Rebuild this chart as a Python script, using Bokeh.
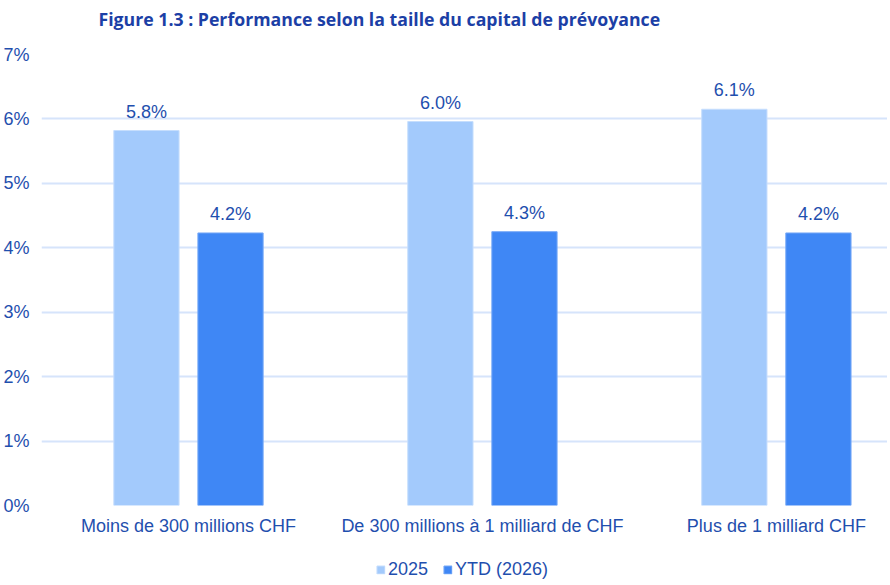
from bokeh.plotting import figure
from bokeh.models import (ColumnDataSource, Range1d, FixedTicker, PrintfTickFormatter,
                          Legend, LegendItem, LabelSet, Label)
from bokeh.layouts import column
from bokeh.core.properties import value
from bokeh.transform import dodge
from bokeh.embed import file_html
from bokeh.resources import INLINE

title_text = "Figure 1.3 : Performance selon la taille du capital de prévoyance"
categories = ["Moins de 300 millions CHF", "De 300 millions à 1 milliard de CHF", "Plus de 1 milliard CHF"]
series_names = ["2025", "YTD (2026)"]
values_2025 = [5.82, 5.96, 6.15]
values_ytd = [4.23, 4.25, 4.23]
labels_2025 = ["5.8%", "6.0%", "6.1%"]
labels_ytd = ["4.2%", "4.3%", "4.2%"]
y_ticks = [0, 1, 2, 3, 4, 5, 6, 7]

TEXT = "#1f4fae"
TITLE = "#1c3fa6"
C1 = "#a3cafc"
C2 = "#3f87f5"
L1 = "#c6defd"
L2 = "#78aaf7"
FONT = "Liberation Sans"
FS = "18px"

# ---- title strip ----
t = figure(width=882, height=36, output_backend="svg", toolbar_location=None,
           x_range=Range1d(0, 1), y_range=Range1d(0, 1),
           x_axis_location=None, y_axis_location=None,
           min_border_left=0, min_border_right=0, min_border_top=0, min_border_bottom=0)
t.outline_line_color = None
t.grid.visible = False
t.add_layout(Label(x=57, y=18, x_units="screen", y_units="screen", text=title_text,
                   text_font="Open Sans", text_font_style="bold", text_font_size="17.7px",
                   text_color=TITLE, text_baseline="middle", text_align="left"))

# ---- main chart ----
idx = list(range(len(categories)))
src = ColumnDataSource(dict(x=idx, v1=values_2025, v2=values_ytd, l1=labels_2025, l2=labels_ytd))

p = figure(width=882, height=500, output_backend="svg", toolbar_location=None,
           x_range=Range1d(-0.5, 2.378), y_range=Range1d(0, 7),
           min_border_left=40, min_border_right=0, min_border_top=18, min_border_bottom=31)
p.frame_width = 846
p.frame_height = 451
p.outline_line_color = None
p.background_fill_color = "white"
p.border_fill_color = "white"

off = 0.143
w = 0.222
p.vbar(x=dodge("x", -off), top="v1", width=w, source=src, fill_color=C1, line_color=L1, line_width=1)
p.vbar(x=dodge("x", off), top="v2", width=w, source=src, fill_color=C2, line_color=L2, line_width=1)

for col, lab, d in (("v1", "l1", -off), ("v2", "l2", off)):
    p.add_layout(LabelSet(x=dodge("x", d), y=col, text=lab, source=src, text_align="center",
                          text_baseline="alphabetic", y_offset=13, text_font=value(FONT),
                          text_font_size=FS, text_color=TEXT))

p.xaxis.ticker = FixedTicker(ticks=idx)
p.xaxis.major_label_overrides = {i: c for i, c in zip(idx, categories)}
p.yaxis.ticker = FixedTicker(ticks=y_ticks)
p.yaxis.formatter = PrintfTickFormatter(format="%d%%")
for ax in (p.xaxis, p.yaxis):
    ax.axis_line_color = None
    ax.major_tick_line_color = None
    ax.minor_tick_line_color = None
    ax.major_tick_out = 0
    ax.major_tick_in = 0
    ax.axis_label_standoff = 0
    ax.major_label_text_font = FONT
    ax.major_label_text_font_size = FS
    ax.major_label_text_color = TEXT
p.yaxis.major_label_standoff = 12
p.xaxis.major_label_standoff = 10

p.xgrid.grid_line_color = None
p.ygrid.grid_line_color = "#d6e4fb"
p.ygrid.grid_line_width = 2

# ---- legend strip (keys drawn from the series, kept outside the visible window) ----
lg = figure(width=882, height=50, output_backend="svg", toolbar_location=None,
            x_range=Range1d(100, 101), y_range=Range1d(100, 101),
            x_axis_location=None, y_axis_location=None,
            min_border_left=0, min_border_right=0, min_border_top=12, min_border_bottom=0)
lg.outline_line_color = None
lg.grid.visible = False
k1 = lg.vbar(x=dodge("x", -off), top="v1", width=w, source=src, fill_color=C1, line_color=L1)
k2 = lg.vbar(x=dodge("x", off), top="v2", width=w, source=src, fill_color=C2, line_color=L2)
legend = Legend(items=[LegendItem(label=series_names[0], renderers=[k1]),
                       LegendItem(label=series_names[1], renderers=[k2])],
                orientation="horizontal", location="center",
                label_text_font=FONT, label_text_font_size=FS, label_text_color=TEXT,
                glyph_width=10, glyph_height=10, spacing=14, label_standoff=3,
                border_line_color=None, background_fill_alpha=0, padding=0, margin=0)
lg.add_layout(legend, "center")

layout = column(t, p, lg, spacing=0)
open("out.html", "w").write(file_html(layout, INLINE))
